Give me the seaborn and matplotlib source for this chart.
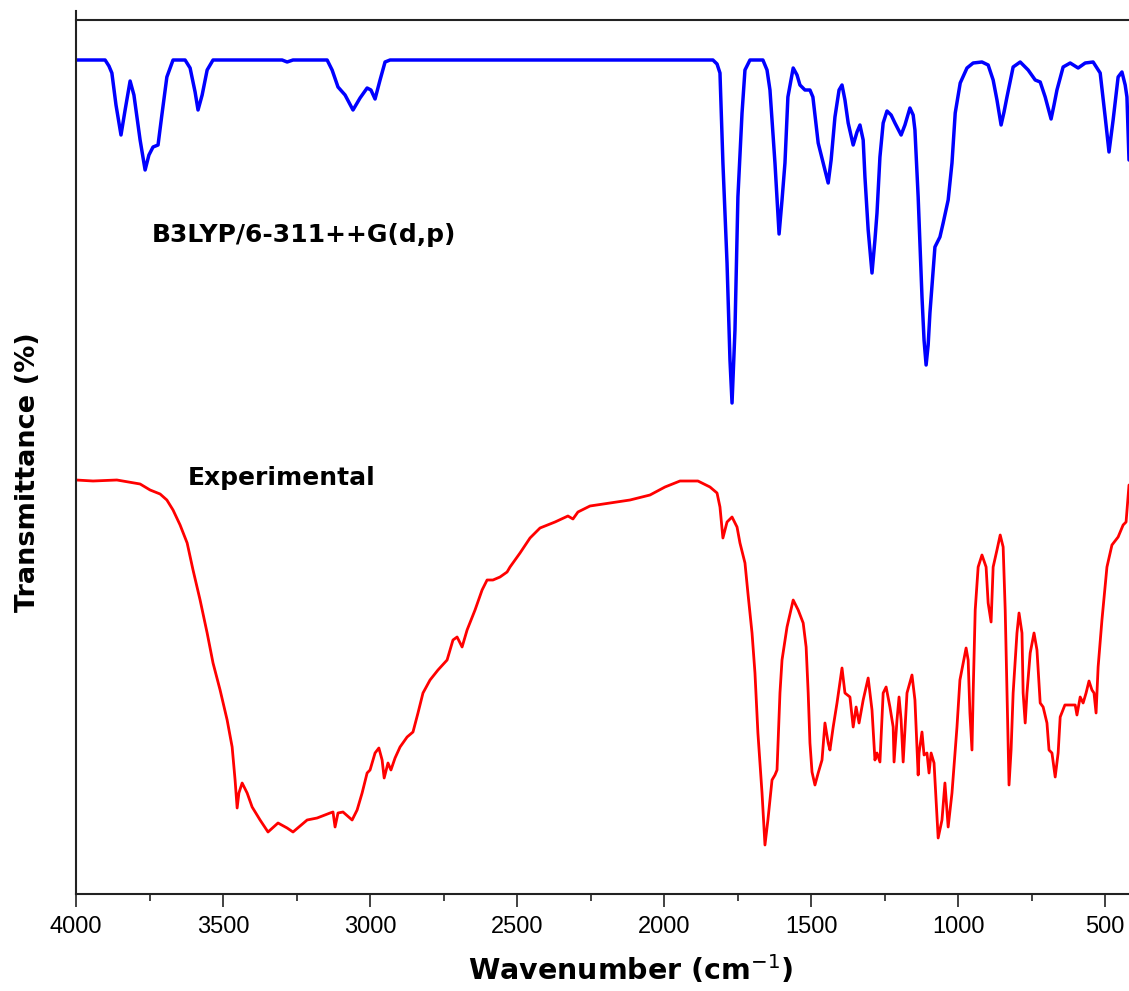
import matplotlib
matplotlib.use("Agg")
import matplotlib.pyplot as plt
import seaborn as sns
import pandas as pd
from matplotlib.ticker import MultipleLocator

# ---------------- data ----------------
# Computed spectrum, B3LYP/6-311++G(d,p): wavenumber (cm-1) and transmittance (arb. units, offset)
calc_wavenumber = [4000, 3901, 3888, 3878, 3864, 3847, 3833, 3816, 3803, 3782, 3765, 3752, 3738, 3721,
                   3708, 3691, 3670, 3629, 3612, 3595, 3585, 3571, 3554, 3534, 3299, 3282, 3262, 3146,
                   3129, 3109, 3085, 3058, 3034, 3010, 2997, 2983, 2966, 2949, 2932, 1834, 1820, 1810,
                   1800, 1786, 1776, 1769, 1759, 1749, 1735, 1725, 1708, 1664, 1650, 1640, 1623, 1609,
                   1599, 1589, 1579, 1561, 1548, 1538, 1521, 1504, 1494, 1476, 1453, 1442, 1432, 1419,
                   1405, 1395, 1385, 1374, 1357, 1344, 1334, 1323, 1317, 1306, 1293, 1283, 1276, 1266,
                   1255, 1242, 1228, 1215, 1194, 1181, 1164, 1153, 1147, 1136, 1123, 1116, 1109, 1102,
                   1096, 1079, 1062, 1051, 1034, 1021, 1010, 993, 970, 949, 919, 898, 881, 868, 854,
                   844, 834, 813, 789, 762, 738, 721, 704, 684, 674, 664, 643, 619, 592, 568, 541, 517,
                   500, 487, 473, 456, 443, 432, 426, 419]
calc_transmittance = [834, 834, 828, 821, 789, 759, 784, 813, 799, 754, 724, 739, 747, 749,
                      779, 817, 834, 834, 826, 802, 784, 799, 824, 834, 834, 832, 834, 834,
                      824, 807, 799, 784, 796, 806, 804, 795, 814, 832, 834, 834, 830, 821,
                      731, 631, 534, 491, 564, 697, 781, 824, 834, 834, 824, 804, 731, 660,
                      694, 731, 797, 826, 819, 809, 804, 804, 797, 751, 724, 711, 734, 777,
                      804, 809, 794, 771, 749, 762, 769, 754, 717, 664, 621, 654, 681, 737,
                      771, 783, 779, 771, 759, 769, 786, 779, 764, 697, 597, 554, 529, 549,
                      581, 647, 657, 671, 694, 731, 781, 811, 826, 831, 832, 829, 814, 794, 769,
                      782, 797, 827, 832, 824, 814, 812, 797, 775, 789, 804, 827, 831, 826, 831, 832, 821,
                      777, 742, 774, 817, 822, 809, 797, 734]

# Experimental spectrum
exp_wavenumber = [4000, 3942, 3861, 3782, 3748, 3714, 3691, 3670, 3646, 3622, 3602, 3578, 3554, 3534,
                  3510, 3486, 3469, 3459, 3452, 3446, 3435, 3418, 3401, 3374, 3347, 3313, 3282, 3262,
                  3214, 3180, 3136, 3126, 3119, 3109, 3092, 3061, 3044, 3027, 3010, 3000, 2983, 2970,
                  2959, 2952, 2939, 2929, 2915, 2898, 2874, 2854, 2837, 2820, 2796, 2769, 2738, 2718,
                  2704, 2687, 2670, 2643, 2619, 2602, 2582, 2558, 2534, 2524, 2490, 2456, 2422, 2371,
                  2327, 2310, 2293, 2252, 2184, 2116, 2048, 1997, 1946, 1885, 1844, 1820, 1810, 1800,
                  1786, 1769, 1752, 1742, 1725, 1715, 1701, 1691, 1681, 1667, 1657, 1647, 1633, 1623,
                  1616, 1606, 1599, 1582, 1561, 1544, 1527, 1517, 1510, 1504, 1497, 1487, 1476, 1463,
                  1453, 1442, 1436, 1425, 1412, 1395, 1385, 1368, 1357, 1347, 1337, 1323, 1306, 1293,
                  1283, 1276, 1266, 1255, 1245, 1232, 1221, 1218, 1208, 1201, 1194, 1187, 1174, 1157,
                  1147, 1136, 1133, 1123, 1116, 1106, 1099, 1092, 1082, 1068, 1055, 1045, 1034, 1021,
                  1004, 994, 973, 966, 960, 953, 949, 942, 932, 919, 905, 898, 888, 881, 868, 857,
                  847, 840, 834, 827, 820, 813, 800, 793, 783, 779, 772, 766, 755, 742, 732, 721, 711,
                  698, 691, 681, 670, 660, 653, 637, 602, 596, 585, 575, 565, 555, 545, 538, 531, 524,
                  511, 494, 477, 456, 439, 429, 422, 419]
exp_transmittance = [414, 413, 414, 410, 404, 400, 394, 384, 369, 351, 324, 294, 261, 231,
                     204, 174, 147, 114, 86, 101, 111, 101, 87, 74, 62, 71, 66, 62,
                     74, 76, 81, 82, 67, 81, 82, 74, 84, 101, 121, 124, 141, 146,
                     134, 116, 131, 124, 136, 147, 157, 162, 181, 201, 214, 224, 234, 254,
                     257, 247, 264, 284, 304, 314, 314, 317, 322, 327, 341, 356, 366, 372,
                     378, 375, 382, 388, 391, 394, 399, 407, 413, 413, 407, 401, 387, 356,
                     372, 377, 367, 351, 331, 301, 261, 221, 161, 101, 49, 74, 114, 119,
                     124, 201, 234, 267, 294, 284, 271, 247, 201, 151, 122, 109, 121, 134,
                     171, 151, 144, 167, 191, 226, 201, 197, 167, 187, 171, 194, 216, 184,
                     134, 141, 132, 201, 207, 187, 167, 132, 174, 197, 174, 132, 201, 219,
                     194, 119, 141, 162, 139, 141, 121, 141, 131, 56, 74, 111, 67, 101,
                     167, 214, 246, 234, 181, 144, 201, 284, 327, 339, 327, 291, 272, 327, 344, 359,
                     347, 284, 201, 109, 144, 201, 261, 281, 261, 201, 171, 201, 241, 261, 244, 191, 187,
                     171, 144, 141, 117, 141, 177, 189, 189, 179, 197, 191, 201, 213, 204, 201, 181, 227,
                     274, 327, 349, 357, 369, 372, 397, 409]

x_major_ticks = [4000, 3500, 3000, 2500, 2000, 1500, 1000, 500]
label_calc = "B3LYP/6-311++G(d,p)"
label_exp = "Experimental"

calc_df = pd.DataFrame({"Wavenumber": calc_wavenumber, "T": calc_transmittance})
exp_df = pd.DataFrame({"Wavenumber": exp_wavenumber, "T": exp_transmittance})

# ---------------- figure ----------------
sns.set_style("white")
plt.rcParams["font.family"] = ["Liberation Sans", "DejaVu Sans"]
plt.rcParams["text.color"] = "black"
plt.rcParams["axes.labelcolor"] = "black"
plt.rcParams["xtick.color"] = "black"

W, H = 1129, 991
fig = plt.figure(figsize=(W / 100, H / 100), dpi=100)
ax = fig.add_axes([76 / W, (H - 894) / H, 1 - 76 / W, (894 - 11) / H])

sns.lineplot(data=calc_df, x="Wavenumber", y="T", ax=ax, color="#0000FF", lw=2.5,
             estimator=None, sort=False)
sns.lineplot(data=exp_df, x="Wavenumber", y="T", ax=ax, color="#FF0000", lw=2.0,
             estimator=None, sort=False)

ax.set_xlim(4000, 419)
ax.set_ylim(0, 883)

# spines
for s in ["left", "bottom", "top"]:
    ax.spines[s].set_visible(True)
    ax.spines[s].set_color("#222222")
    ax.spines[s].set_linewidth(1.5)
ax.spines["right"].set_visible(False)
ax.spines["top"].set_position(("axes", (894 - 20) / 883))

# ticks
ax.set_xticks(x_major_ticks)
ax.xaxis.set_minor_locator(MultipleLocator(250))
ax.tick_params(axis="x", which="major", direction="out", length=9, width=1.2,
               color="#222222", labelcolor="black", labelsize=17, pad=7, bottom=True)
ax.tick_params(axis="x", which="minor", direction="out", length=5, width=1.2,
               color="#222222", bottom=True)
ax.set_yticks([])

# labels
ax.set_xlabel("Wavenumber (cm$^{-1}$)", fontsize=20.5, fontweight="bold",
              family="DejaVu Sans", color="black")
ax.xaxis.set_label_coords((631 - 76) / 1053, (894 - 970) / 883)
ax.xaxis.label.set_va("center")
ax.set_ylabel("Transmittance (%)", fontsize=19.5, fontweight="bold", family="DejaVu Sans",
              color="black")
ax.yaxis.set_label_coords((28 - 76) / 1053, (894 - 472) / 883)
ax.yaxis.label.set_va("center")

ax.text(3742, 659, label_calc, fontsize=18, fontweight="bold", family="DejaVu Sans",
        ha="left", va="center", color="black")
ax.text(3619, 416, label_exp, fontsize=18, fontweight="bold", family="DejaVu Sans",
        ha="left", va="center", color="black")

fig.savefig("out.png", dpi=100)
